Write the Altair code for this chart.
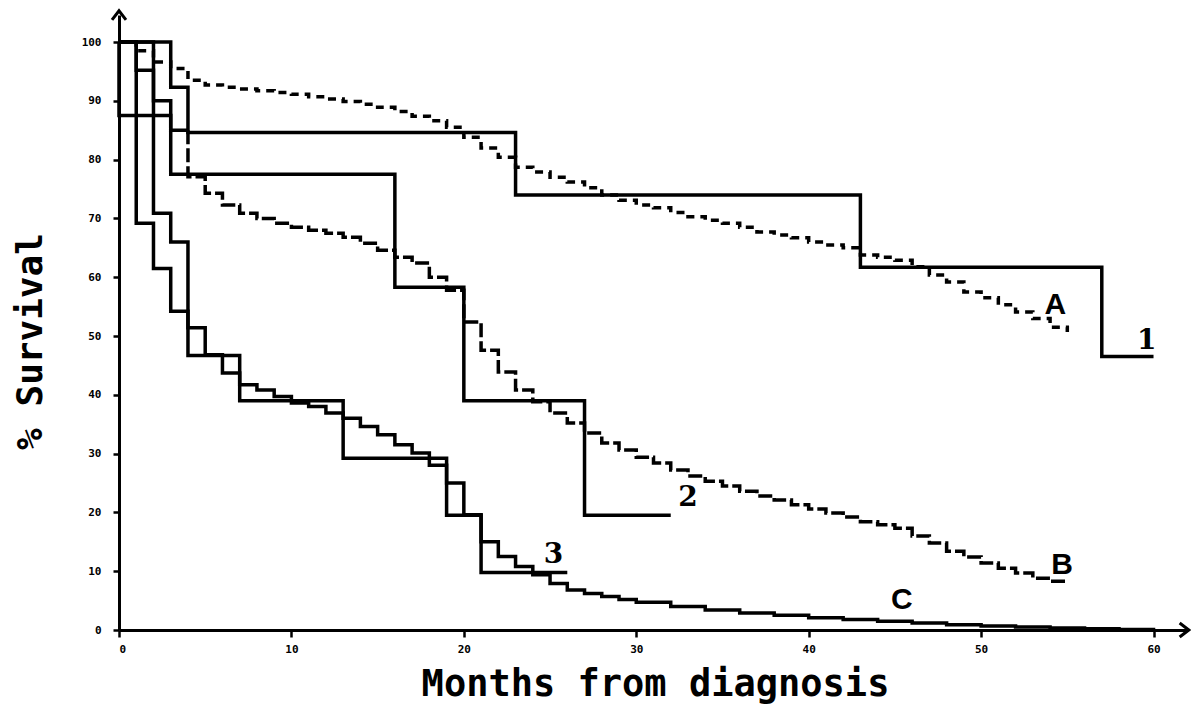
import altair as alt
import pandas as pd

# ---------------- data ----------------
# Observed survival curves (solid steps)
months_1 = [0, 3, 4, 23, 43, 57, 60]
surv_1 = [100, 92.3, 84.6, 74.0, 61.7, 46.5, 46.5]

months_2 = [0, 0, 3, 16, 20, 27, 32]
surv_2 = [100, 87.5, 77.5, 58.3, 39.0, 19.5, 19.5]

months_3 = [0, 1, 2, 3, 4, 7, 13, 19, 21, 26]
surv_3 = [100, 69.2, 61.5, 54.2, 46.7, 39.0, 29.2, 19.5, 9.8, 9.8]

# Comparison curve C (fine solid steps)
months_C = [0, 1, 2, 3, 4, 5, 6, 7, 8, 9, 10, 11, 12, 13, 14, 15, 16, 17, 18,
            19, 20, 21, 22, 23, 24, 25, 26, 27, 28, 29, 30, 32, 34, 36, 38,
            40, 42, 44, 46, 48, 50, 52, 54, 56, 58, 60]
surv_C = [100, 95.2, 70.9, 66.0, 51.4, 46.8, 43.7, 41.7, 40.8, 39.7, 38.6,
          38.0, 36.9, 36.0, 34.6, 33.2, 31.5, 30.1, 28.0, 25.0, 19.6, 15.0,
          12.5, 10.8, 9.4, 7.9, 6.8, 6.2, 5.7, 5.2, 4.7, 4.0, 3.4, 2.9, 2.5,
          2.1, 1.8, 1.5, 1.2, 0.9, 0.7, 0.5, 0.35, 0.2, 0.1, 0.0]

# Comparison curve B: solid start, then dashed
months_B_start = [0, 2, 3, 4]
surv_B_start = [100, 90.0, 85.0, 85.0]
months_B = [4, 4, 5, 6, 7, 8, 9, 10, 11, 12, 13, 14, 15, 16, 17, 18, 19, 20,
            21, 22, 23, 24, 25, 26, 27, 28, 29, 30, 31, 32, 33, 34, 35, 36,
            37, 38, 39, 40, 41, 42, 43, 44, 45, 46, 47, 48, 49, 50, 51, 52,
            53, 54, 55]
surv_B = [85.0, 77.1, 74.3, 72.3, 70.9, 70.0, 69.2, 68.5, 68.0, 67.5, 66.8,
          65.8, 64.6, 63.4, 62.4, 60.0, 57.8, 52.4, 47.6, 43.9, 40.8, 38.8,
          36.9, 35.2, 33.5, 31.8, 30.6, 29.4, 28.4, 27.2, 26.2, 25.3, 24.5,
          23.6, 22.8, 22.1, 21.3, 20.6, 19.9, 19.2, 18.4, 17.9, 17.3, 16.0,
          14.8, 13.4, 12.4, 11.4, 10.5, 9.7, 8.8, 8.3, 8.3]

# Comparison curve A (dotted)
months_A = [0, 1, 2, 3, 4, 5, 6, 7, 8, 9, 10, 11, 12, 13, 14, 15, 16, 17, 18,
            19, 20, 21, 22, 23, 24, 25, 26, 27, 28, 29, 30, 31, 32, 33, 34, 35,
            36, 37, 38, 39, 40, 41, 42, 43, 44, 45, 46, 47, 48, 49, 50, 51, 52,
            53, 54, 55]
surv_A = [100, 98.5, 96.6, 95.5, 93.5, 92.7, 92.3, 92.0, 91.7, 91.4, 91.1,
          90.7, 90.3, 89.9, 89.4, 88.9, 88.2, 87.4, 86.6, 85.5, 83.8, 82.0,
          80.4, 78.7, 77.9, 77.0, 76.2, 75.2, 74.0, 73.1, 72.3, 71.8, 71.0,
          70.3, 69.7, 69.2, 68.5, 67.7, 67.2, 66.7, 66.0, 65.5, 65.0, 63.8,
          63.4, 62.9, 61.8, 60.4, 59.2, 57.5, 56.5, 55.3, 54.1, 53.0, 51.5,
          50.7]

# Curve labels
letter_labels = ["A", "B", "C"]
letter_month = [54.3, 54.7, 45.4]
letter_surv = [55.3, 11.0, 5.1]
number_labels = ["1", "2", "3"]
number_month = [59.6, 33.0, 25.2]
number_surv = [49.2, 22.4, 12.8]

x_ticks = [0, 10, 20, 30, 40, 50, 60]
y_ticks = [0, 10, 20, 30, 40, 50, 60, 70, 80, 90, 100]

X_MAX = 62.0
Y_MAX = 104.6


def frame(name, xs, ys):
    return pd.DataFrame({"curve": name, "month": xs, "surv": ys,
                         "ord": list(range(len(xs)))})


solid = pd.concat([
    frame("1", months_1, surv_1),
    frame("2", months_2, surv_2),
    frame("3", months_3, surv_3),
    frame("C", months_C, surv_C),
    frame("B0", months_B_start, surv_B_start),
])
dashB = frame("B", months_B, surv_B)
dotA = frame("A", months_A, surv_A)

xs = alt.Scale(domain=[0, X_MAX], nice=False, zero=False)
ys = alt.Scale(domain=[0, Y_MAX], nice=False, zero=False)

FONT = "DejaVu Sans Mono"

x_axis = alt.Axis(values=x_ticks, title="Months from diagnosis", grid=False,
                  labelFont=FONT, labelFontWeight="bold", labelFontSize=11,
                  labelColor="black", labelPadding=6, tickSize=7,
                  tickWidth=2.5, tickColor="black", domainColor="black",
                  domainWidth=3, titleFont=FONT, titleFontWeight="bold",
                  titleFontSize=37, titleColor="black", titleX=536,
                  titleY=54, titleBaseline="middle", titleAlign="center")
y_axis = alt.Axis(values=y_ticks, title="% Survival", grid=False,
                  labelFont=FONT, labelFontWeight="bold", labelFontSize=11,
                  labelColor="black", labelPadding=12, tickSize=6,
                  tickWidth=2.5, tickColor="black", domainColor="black",
                  domainWidth=3, titleFont=FONT, titleFontWeight="bold",
                  titleFontSize=36, titleColor="black", titleX=-89,
                  titleY=326, titleBaseline="middle", titleAlign="center",
                  titleAngle=270)

base_x = alt.X("month:Q", scale=xs, axis=x_axis)
base_y = alt.Y("surv:Q", scale=ys, axis=y_axis)

solid_lines = alt.Chart(solid).mark_line(
    interpolate="step-after", color="black", strokeWidth=3.5
).encode(x=base_x, y=base_y, detail="curve:N", order="ord:Q")

b_lines = alt.Chart(dashB).mark_line(
    interpolate="step-after", color="black", strokeWidth=3.5,
    strokeDash=[14, 4]
).encode(x=alt.X("month:Q", scale=xs), y=alt.Y("surv:Q", scale=ys),
         order="ord:Q")

a_lines = alt.Chart(dotA).mark_line(
    interpolate="step-after", color="black", strokeWidth=3.5,
    strokeDash=[8, 6]
).encode(x=alt.X("month:Q", scale=xs), y=alt.Y("surv:Q", scale=ys),
         order="ord:Q")

letters = alt.Chart(pd.DataFrame({"t": letter_labels, "month": letter_month,
                                  "surv": letter_surv})).mark_text(
    font="Liberation Sans", fontWeight="bold", fontSize=30, color="black",
    align="center", baseline="middle"
).encode(x=alt.X("month:Q", scale=xs), y=alt.Y("surv:Q", scale=ys), text="t:N")

numbers = alt.Chart(pd.DataFrame({"t": number_labels, "month": number_month,
                                  "surv": number_surv})).mark_text(
    font="DejaVu Serif", fontWeight="bold", fontSize=28, color="black",
    align="center", baseline="middle"
).encode(x=alt.X("month:Q", scale=xs), y=alt.Y("surv:Q", scale=ys), text="t:N")

arrow_up = alt.Chart(pd.DataFrame({"month": [0], "surv": [Y_MAX]})).mark_point(
    shape="M-1,0.7L0,-0.6L1,0.7", filled=False, color="black",
    strokeWidth=3, size=196, opacity=1
).encode(x=alt.X("month:Q", scale=xs), y=alt.Y("surv:Q", scale=ys))

arrow_right = alt.Chart(pd.DataFrame({"month": [X_MAX - 0.2], "surv": [0]})).mark_point(
    shape="M-0.7,-1L0.6,0L-0.7,1", filled=False, color="black",
    strokeWidth=3, size=196, opacity=1
).encode(x=alt.X("month:Q", scale=xs), y=alt.Y("surv:Q", scale=ys))

chart = alt.layer(
    solid_lines, b_lines, a_lines, letters, numbers, arrow_up, arrow_right
).properties(
    width=1069, height=615,
    autosize=alt.AutoSizeParams(type="none"),
    padding={"left": 111, "top": 7, "right": 3, "bottom": 80},
    background="white",
).configure_view(stroke=None)

chart.save("out.html", embed_options={"renderer": "svg", "actions": False})
